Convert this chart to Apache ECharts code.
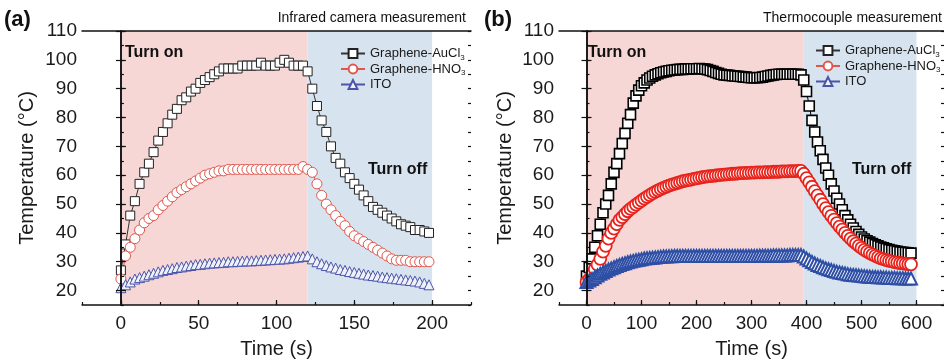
<!DOCTYPE html>
<html>
<head>
<meta charset="utf-8">
<script src="https://cdn.jsdelivr.net/npm/echarts@6/dist/echarts.min.js"></script>
<style>
html, body { margin: 0; padding: 0; background: #fff; }
#main { width: 944px; height: 364px; }
</style>
</head>
<body>
<div id="main"></div>
<script>
// (a) infrared camera, one reading every 3 s
const timeA = [0,3,6,9,12,15,18,21,24,27,30,33,36,39,42,45,48,51,54,57,60,63,66,69,72,75,78,81,84,87,
  90,93,96,99,102,105,108,111,114,117,120,123,126,129,132,135,138,141,144,147,150,153,156,159,162,165,168,171,174,177,
  180,183,186,189,192,195,198];
const aucl3A = [27,36,46,51,57,61,64,68,72,75, 78,81,83,86,87,89,90,92,93,94,
  95,96,97,97,97,97,98,98,98,98, 99,98,98,98,99,100,99,98,98,98,
  96,90,84,79,75,70,66,64,61,59, 57,55,53,51,49,48,47,46,45,44,
  43,42.5,42,41,41,40.5,40];
const hno3A = [24,32,35,38,41,43.5,45,46,48,49.5, 51,52.5,54,55,56,57,58,59,60,60.5,
  61,61.5,61.5,62,62,62,62,62,62,62, 62,62,62,62,62,62,62,62,62,63,
  62,61,57,53,50,48,46,44,42.5,40.5, 39,38,37,36,35,34,33,32,31,30.5,
  30.5,30.5,30,30,30,30,30];
const itoA = [21,22,23,24,24.5,25,25.5,26,26.5,27, 27.3,27.6,28,28.2,28.5,28.7,29,29.1,29.3,29.5,
  29.6,29.7,29.8,30,30,30.1,30.2,30.3,30.3,30.4, 30.5,30.6,30.7,30.8,30.9,31,31.2,31.4,31.6,31.8,
  32,31,30,29.3,28.7,28.2,27.8,27.3,27,26.6, 26.3,26,25.7,25.4,25.2,25,24.7,24.5,24.3,24.1,
  23.9,23.7,23.5,23.3,23,22.5,22];

// (b) thermocouple, one reading every 5 s
const timeB = [0,5,10,15,20,25,30,35,40,45,50,55,60,65,70,75,80,85,90,95,
  100,105,110,115,120,125,130,135,140,145,150,155,160,165,170,175,180,185,190,195,
  200,205,210,215,220,225,230,235,240,245,250,255,260,265,270,275,280,285,290,295,
  300,305,310,315,320,325,330,335,340,345,350,355,360,365,370,375,380,385,390,395,
  400,405,410,415,420,425,430,435,440,445,450,455,460,465,470,475,480,485,490,495,
  500,505,510,515,520,525,530,535,540,545,550,555,560,565,570,575,580,585,590];
const aucl3B = [25,28,31,35,39,43,47,50,53,57, 61,64,67.5,71,74.5,78,81,85,87.5,89.5,
  91,92,93,93.7,94.3,94.8,95.2,95.5,95.8,96, 96.2,96.4,96.5,96.6,96.7,96.7,96.8,96.8,96.9,96.9,
  96.9,97,96.9,96.8,96.6,96.3,96,95.6,95.3,95, 94.8,94.7,94.6,94.5,94.4,94.3,94.2,94.1,94,93.9,
  93.8,93.8,93.8,93.9,94,94.2,94.4,94.6,94.8,94.9, 95,95,95,95,95,95,95,95,94.8,93,
  89,84,79,75,71.5,68.5,65.5,62.5,60,57, 54.5,52,50,48,46,44.5,43,41.7,40.5,39.5,
  38.6,37.9,37.3,36.8,36.3,35.9,35.5,35.1,34.8,34.5, 34.2,34,33.8,33.6,33.4,33.3,33.2,33.1,33];
const hno3B = [23,24,25.5,27.5,29,31,33.5,35.5,38,40, 41.5,43,44.5,45.5,46.5,47.5,48.3,49,49.8,50.5,
  51.2,51.9,52.5,53.1,53.7,54.2,54.7,55.2,55.6,56, 56.4,56.7,57,57.3,57.6,57.9,58.1,58.3,58.5,58.7,
  58.9,59.1,59.3,59.4,59.6,59.7,59.8,59.9,60,60.1, 60.2,60.3,60.4,60.5,60.5,60.6,60.7,60.7,60.8,60.8,
  60.9,60.9,61,61,61,61.1,61.1,61.1,61.2,61.2, 61.2,61.3,61.3,61.3,61.4,61.4,61.4,61.5,61.5,60.5,
  59,57.5,56,54.5,53,51.5,50,48.6,47.2,45.9, 44.6,43.4,42.2,41.1,40,39,38,37.1,36.3,35.5,
  34.8,34.1,33.5,33,32.5,32,31.6,31.2,30.9,30.6, 30.3,30.1,29.9,29.7,29.5,29.4,29.3,29.2,29.1];
const itoB = [23,23.5,24,24.6,25.2,25.8,26.3,26.8,27.3,27.7, 28.1,28.5,28.9,29.2,29.5,29.8,30.1,30.3,30.5,30.7,
  30.9,31.1,31.2,31.3,31.4,31.5,31.6,31.7,31.8,31.8, 31.9,31.9,32,32,32,32,32,32,32,32,
  32,32,32,32,32,32,32,32,32,32, 32,32,32,32,32,32,32,32,32,32,
  32,32,32,32.1,32.1,32.1,32.1,32.1,32.2,32.2, 32.2,32.2,32.2,32.2,32.3,32.3,32.3,32.3,32.3,31.8,
  31.1,30.5,29.9,29.4,28.9,28.5,28.1,27.7,27.4,27.1, 26.8,26.5,26.3,26.1,25.9,25.7,25.5,25.4,25.3,25.2,
  25.1,25,24.9,24.8,24.7,24.7,24.6,24.6,24.5,24.5, 24.4,24.4,24.4,24.3,24.3,24.3,24.2,24.2,24.2];

// heater on / off windows (s)
const phaseA = [0, 120, 200];
const phaseB = [0, 395, 600];

// ticks
const yTicks = [20, 30, 40, 50, 60, 70, 80, 90, 100, 110];
const xTicksA = [0, 50, 100, 150, 200];
const xTicksB = [0, 100, 200, 300, 400, 500, 600];

const names = ['Graphene-AuCl3', 'Graphene-HNO3', 'ITO'];

const FONT = '"Liberation Sans", Arial, sans-serif';
const PINK = '#f6d7d5';
const BLUE = '#d7e4ef';

const chart = echarts.init(document.getElementById('main'));

function pairs(t, v) {
  return t.map((x, i) => [x, v[i]]);
}

// one panel = 1 grid, 3 x axes, 4 y axes
function panelAxes(g, xMin, xMax, xMinor, xTicks, yGap) {
  const lineStyle = { color: '#111', width: 1.5 };
  const tickStyle = { color: '#111', width: 1.2 };
  const xs = [
    {
      gridIndex: g, type: 'value', min: xMin, max: xMax, position: 'bottom', z: 5,
      axisLine: { lineStyle }, splitLine: { show: false },
      axisTick: { inside: true, length: 5, customValues: xTicks, lineStyle: tickStyle },
      axisLabel: { customValues: xTicks, fontSize: 19, color: '#1a1a1a', margin: 9, fontFamily: FONT },
      name: 'Time (s)', nameLocation: 'middle', nameGap: 34,
      nameTextStyle: { fontSize: 20, color: '#1a1a1a', fontFamily: FONT }
    },
    {
      gridIndex: g, type: 'value', min: xMin, max: xMax, interval: xMinor, position: 'bottom', z: 5,
      axisLine: { show: false }, splitLine: { show: false }, axisLabel: { show: false },
      axisTick: { inside: true, length: 3, lineStyle: tickStyle }
    },
    {
      gridIndex: g, type: 'value', min: xMin, max: xMax, position: 'top', z: 5,
      axisLine: { lineStyle }, splitLine: { show: false }, axisLabel: { show: false },
      axisTick: { show: false }
    }
  ];
  const ys = [
    {
      gridIndex: g, type: 'value', min: 15, max: 110, position: 'left', z: 5,
      axisLine: { lineStyle }, splitLine: { show: false },
      axisTick: { inside: true, length: 5, customValues: yTicks, lineStyle: tickStyle },
      axisLabel: { customValues: yTicks, fontSize: 19, color: '#1a1a1a', margin: 5, fontFamily: FONT },
      name: 'Temperature (°C)', nameLocation: 'middle', nameGap: yGap,
      nameTextStyle: { fontSize: 20, color: '#1a1a1a', fontFamily: FONT }
    },
    {
      gridIndex: g, type: 'value', min: 15, max: 110, interval: 5, position: 'left', z: 5,
      axisLine: { show: false }, splitLine: { show: false }, axisLabel: { show: false },
      axisTick: { inside: true, length: 3, lineStyle: tickStyle }
    },
    {
      gridIndex: g, type: 'value', min: 15, max: 110, position: 'right', z: 5,
      axisLine: { lineStyle }, splitLine: { show: false }, axisLabel: { show: false },
      axisTick: { inside: true, length: 5, customValues: yTicks, lineStyle: tickStyle }
    },
    {
      gridIndex: g, type: 'value', min: 15, max: 110, interval: 5, position: 'right', z: 5,
      axisLine: { show: false }, splitLine: { show: false }, axisLabel: { show: false },
      axisTick: { inside: true, length: 3, lineStyle: tickStyle }
    }
  ];
  return { xs, ys };
}

const pa = panelAxes(0, -25, 225, 25, xTicksA, 45);
const pb = panelAxes(1, -50, 650, 50, xTicksB, 44);

function shade(phase) {
  return {
    silent: true,
    data: [
      [{ xAxis: phase[0], itemStyle: { color: PINK } }, { xAxis: phase[1] }],
      [{ xAxis: phase[1], itemStyle: { color: BLUE } }, { xAxis: phase[2] }]
    ]
  };
}

function mkSeries(name, xi, yi, data, sym, size, stroke, fill, lineColor, bw, extra) {
  return Object.assign({
    name, type: 'line', xAxisIndex: xi, yAxisIndex: yi, data,
    symbol: sym, symbolSize: size, showAllSymbol: true,
    itemStyle: { color: fill, borderColor: stroke, borderWidth: bw },
    lineStyle: { color: lineColor, width: 1 },
    emphasis: { disabled: true }
  }, extra || {});
}

const series = [
  mkSeries(names[0], 0, 0, pairs(timeA, aucl3A), 'rect', 9, '#222', '#fff', '#333', 1, { markArea: shade(phaseA) }),
  mkSeries(names[1], 0, 0, pairs(timeA, hno3A), 'circle', 10, '#e0554c', '#fff', '#e0554c', 1),
  mkSeries(names[2], 0, 0, pairs(timeA, itoA), 'triangle', 10, '#4a55a8', '#eef0fa', '#4a55a8', 1),
  mkSeries(names[0], 3, 4, pairs(timeB, aucl3B), 'rect', 10, '#000', '#fff', '#000', 1.6, { markArea: shade(phaseB) }),
  mkSeries(names[1], 3, 4, pairs(timeB, hno3B), 'circle', 12, '#e8231c', '#fff', '#e8231c', 1.8),
  mkSeries(names[2], 3, 4, pairs(timeB, itoB), 'triangle', 12, '#2f4fa6', '#fff', '#2f4fa6', 2)
];

function legendAt(left, top) {
  return {
    left, top, orient: 'vertical', data: names, itemWidth: 24, itemHeight: 11, itemGap: 1,
    selectedMode: false,
    formatter: n => n === 'ITO' ? '{n|ITO}' : '{n|' + n.slice(0, -1) + '}{s|' + n.slice(-1) + '}',
    textStyle: {
      color: '#1a1a1a', fontFamily: FONT,
      rich: {
        n: { fontSize: 13, fontFamily: FONT, color: '#1a1a1a', lineHeight: 16, verticalAlign: 'middle' },
        s: { fontSize: 8, fontFamily: FONT, color: '#1a1a1a', lineHeight: 6, verticalAlign: 'bottom' }
      }
    }
  };
}

function txt(text, x, y, size, bold, align) {
  return {
    type: 'text', x, y, z: 50,
    style: {
      text, font: (bold ? 'bold ' : '') + size + 'px ' + FONT, fill: '#111',
      textAlign: align || 'left', textVerticalAlign: 'middle'
    }
  };
}

chart.setOption({
  animation: false,
  textStyle: { fontFamily: FONT },
  grid: [
    { left: 82, top: 31, width: 389, height: 283 },
    { left: 559, top: 31, width: 387, height: 283 }
  ],
  xAxis: pa.xs.concat(pb.xs),
  yAxis: pa.ys.concat(pb.ys),
  legend: [legendAt(335, 42), legendAt(810, 39)],
  series: series.map((s, i) => i >= 3 ? Object.assign(s, { xAxisIndex: 3, yAxisIndex: 4 }) : s),
  graphic: [
    txt('(a)', 4, 20, 22, true),
    txt('Infrared camera measurement', 466, 18, 14, false, 'right'),
    txt('Turn on', 125, 53, 16, true),
    txt('Turn off', 368, 170, 16, true),
    txt('(b)', 484, 20, 22, true),
    txt('Thermocouple measurement', 942, 18, 14, false, 'right'),
    txt('Turn on', 588, 53, 16, true),
    txt('Turn off', 852, 170, 16, true)
  ]
});
</script>
</body>
</html>
